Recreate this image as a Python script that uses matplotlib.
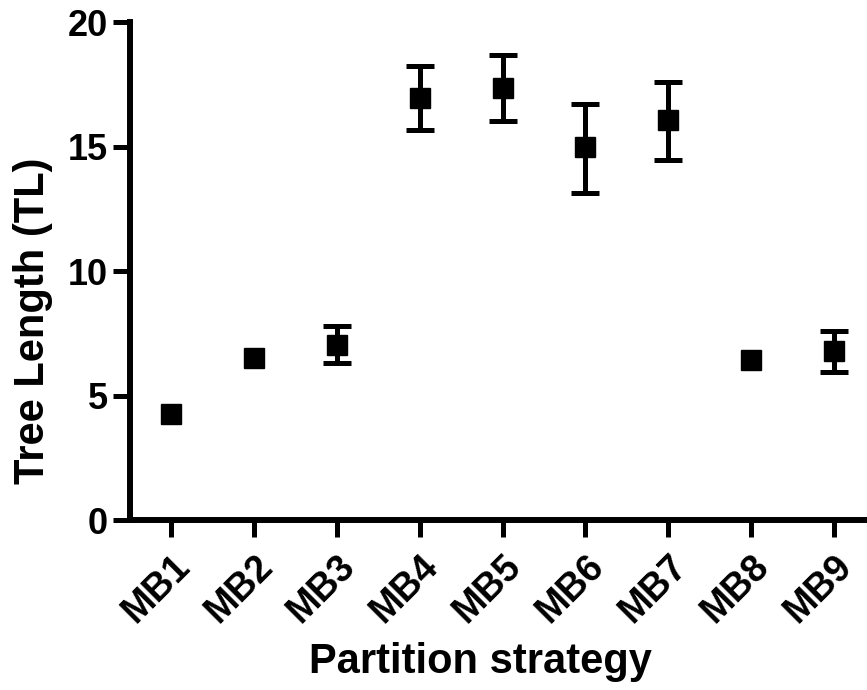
import matplotlib.pyplot as plt

plt.rcParams["font.family"] = ["Liberation Sans", "DejaVu Sans"]
plt.rcParams["font.weight"] = "bold"

strategies = ["MB1", "MB2", "MB3", "MB4", "MB5", "MB6", "MB7", "MB8", "MB9"]
tree_length = [4.25, 6.5, 7.05, 16.95, 17.35, 15.0, 16.05, 6.45, 6.8]
err_low = [0.0, 0.0, 0.72, 1.27, 1.33, 1.85, 1.57, 0.0, 0.83]
err_high = [0.0, 0.0, 0.75, 1.28, 1.34, 1.7, 1.53, 0.0, 0.8]

fig = plt.figure(figsize=(8.67, 6.9), dpi=100)
ax = fig.add_axes([0.150, 0.246, 0.85, 0.722])

x = list(range(len(strategies)))
# only points with a spread get error bars (no bare caps on the others)
has_err = [i for i in x if err_low[i] > 0 or err_high[i] > 0]
ax.errorbar([x[i] for i in has_err], [tree_length[i] for i in has_err],
            yerr=[[err_low[i] for i in has_err], [err_high[i] for i in has_err]],
            fmt="none", ecolor="black", elinewidth=3.6, capsize=10, capthick=3.6)
ax.plot(x, tree_length, "s", color="black", markersize=14, zorder=3)

ax.set_xlim(-0.5, 8.4)
ax.set_ylim(0, 20)
ax.set_yticks([0, 5, 10, 15, 20])
ax.set_xticks(x)
ax.set_xticklabels(strategies, rotation=45, ha="right", rotation_mode="anchor")

for side in ["top", "right"]:
    ax.spines[side].set_visible(False)
for side in ["left", "bottom"]:
    ax.spines[side].set_linewidth(4.3)

ax.tick_params(axis="both", width=3.6, length=12, pad=4)
ax.tick_params(axis="y", labelsize=26)
ax.tick_params(axis="x", labelsize=27, pad=8)
for lab in ax.get_xticklabels() + ax.get_yticklabels():
    lab.set_fontweight("bold")

ax.set_ylabel("Tree Length (TL)", fontsize=30, fontweight="bold")
ax.set_xlabel("Partition strategy", fontsize=30, fontweight="bold")
ax.yaxis.set_label_coords(-0.104, 0.40)
ax.xaxis.set_label_coords(0.475, -0.245)

fig.savefig("out.png", dpi=100)
